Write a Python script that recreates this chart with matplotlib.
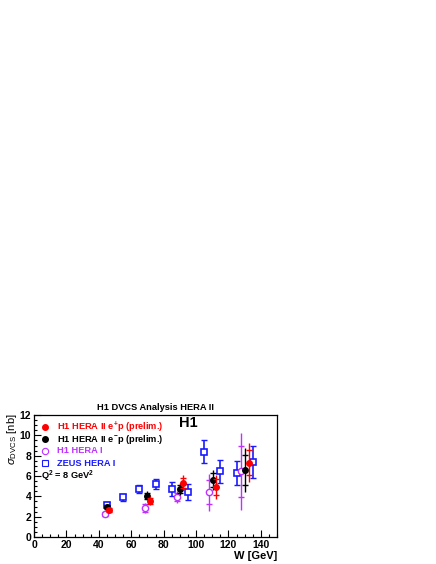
import matplotlib
matplotlib.use("Agg")
import matplotlib.pyplot as plt
from matplotlib.ticker import MultipleLocator

plt.rcParams['font.family'] = ['Liberation Sans', 'DejaVu Sans']
plt.rcParams['mathtext.fontset'] = 'custom'
plt.rcParams['mathtext.rm'] = 'Liberation Sans'
plt.rcParams['mathtext.it'] = 'Liberation Sans:italic'
plt.rcParams['mathtext.bf'] = 'Liberation Sans:bold'

# H1 HERA II e+p (prelim.)
w_h1ep = [46.5, 71.5, 92.0, 112.6, 132.9]
s_h1ep = [2.65, 3.55, 5.35, 4.9, 7.3]
tot_h1ep = [0.3, 0.45, 0.75, 1.15, 1.9]
st_h1ep = [0.2, 0.3, 0.5, 0.8, 1.25]

# H1 HERA II e-p (prelim.)
w_h1em = [45.0, 69.9, 90.3, 110.3, 130.2]
s_h1em = [3.0, 4.05, 4.75, 5.6, 6.6]
tot_h1em = [0.2, 0.45, 0.6, 1.0, 2.2]
st_h1em = [0.15, 0.3, 0.4, 0.65, 1.45]

# H1 HERA I
w_h1 = [44.0, 68.8, 88.4, 108.0, 127.7]
s_h1 = [2.25, 2.85, 3.95, 4.4, 6.45]
tot_h1 = [0.3, 0.5, 0.6, 1.8, 3.75]
st_h1 = [0.2, 0.35, 0.4, 1.2, 2.55]

# ZEUS HERA I
w_zeus = [45, 55, 65, 75, 85, 95, 105, 115, 125, 135]
s_zeus = [3.1, 3.9, 4.75, 5.2, 4.75, 4.4, 8.4, 6.45, 6.3, 7.4]
tot_zeus = [0.3, 0.35, 0.4, 0.5, 0.68, 0.8, 1.15, 1.15, 1.2, 1.55]

xticks = [0, 20, 40, 60, 80, 100, 120, 140]
yticks = [0, 2, 4, 6, 8, 10, 12]

legend_labels = [r'H1 HERA II e$^{\mathbf{+}}$p (prelim.)', r'H1 HERA II e$^{\mathbf{-}}$p (prelim.)',
                 'H1 HERA I', 'ZEUS HERA I']

RED = '#ff0000'
BLACK = '#000000'
MAG = '#c030ff'
BLUE = '#1a1aff'

fig = plt.figure(figsize=(4.36, 5.64), dpi=100)
ax = fig.add_axes([34/436, 1-537/564, (277-34)/436, (537-415)/564])

def h1series(x, y, tot, st, color, filled, z):
    ax.errorbar(x, y, yerr=tot, fmt='none', ecolor=color, elinewidth=1.0, capsize=0, zorder=z)
    ax.errorbar(x, y, yerr=st, fmt='none', ecolor=color, elinewidth=0, capsize=2.5, capthick=1.0, zorder=z)
    if filled:
        ax.plot(x, y, 'o', ms=4, color=color, mec=color, zorder=z + 0.5, linestyle='none')
    else:
        ax.plot(x, y, 'o', ms=4.5, mfc='white', mec=color, mew=1.0, zorder=z + 0.5, linestyle='none')

ax.errorbar(w_zeus, s_zeus, yerr=tot_zeus, fmt='none', ecolor=BLUE, elinewidth=1.2, capsize=2.5, capthick=1.0, zorder=2)
ax.plot(w_zeus, s_zeus, 's', ms=5, mfc='white', mec=BLUE, mew=1.2, zorder=2.5, linestyle='none')
h1series(w_h1, s_h1, tot_h1, st_h1, MAG, False, 3)
h1series(w_h1em, s_h1em, tot_h1em, st_h1em, BLACK, True, 4)
h1series(w_h1ep, s_h1ep, tot_h1ep, st_h1ep, RED, True, 5)

ax.set_xlim(0, 150)
ax.set_ylim(0, 12)
ax.set_xticks(xticks)
ax.set_yticks(yticks)
ax.xaxis.set_minor_locator(MultipleLocator(5))
ax.yaxis.set_minor_locator(MultipleLocator(0.5))
ax.tick_params(which='both', direction='in', top=False, right=False, labelsize=7.5, pad=2)
ax.tick_params(which='major', length=5, width=0.8)
ax.tick_params(which='minor', length=2.5, width=0.8)
for lab in ax.get_xticklabels() + ax.get_yticklabels():
    lab.set_fontweight('bold')
for s in ax.spines.values():
    s.set_linewidth(0.9)

# manual legend (axes coordinates)
rows_y = [0.899, 0.801, 0.705, 0.604]
colors = [RED, BLACK, MAG, BLUE]
mk = [dict(marker='o', color=RED, ms=4), dict(marker='o', color=BLACK, ms=4),
      dict(marker='o', mfc='white', mec=MAG, ms=4.5, mew=0.8),
      dict(marker='s', mfc='white', mec=BLUE, ms=4.5, mew=0.8)]
for yy, c, m, lab in zip(rows_y, colors, mk, legend_labels):
    ax.plot([0.045], [yy], transform=ax.transAxes, clip_on=False, ls='none', **m)
    ax.text(0.093, yy, lab, transform=ax.transAxes, color=c, fontsize=6.7, fontweight='bold', va='center', ha='left')

ax.text(0.03, 0.494, r'Q$^{\mathbf{2}}$ = 8 GeV$^{\mathbf{2}}$', transform=ax.transAxes, fontsize=6.7, fontweight='bold', va='center')
ax.text(0.637, 0.934, 'H1', transform=ax.transAxes, fontsize=10.5, fontweight='bold', ha='center', va='center')

fig.text((34+277)/2/436, 1-407/564, 'H1 DVCS Analysis HERA II', ha='center', va='center', fontsize=6.7, fontweight='bold')
fig.text(12/436, 1-413/564, r'$\sigma_{\mathrm{DVCS}}$ [nb]', rotation=90, ha='center', va='top', fontsize=8)
fig.text(277/436, 1-556/564, 'W [GeV]', ha='right', va='center', fontsize=8, fontweight='bold')

fig.savefig('out.png', dpi=100)
